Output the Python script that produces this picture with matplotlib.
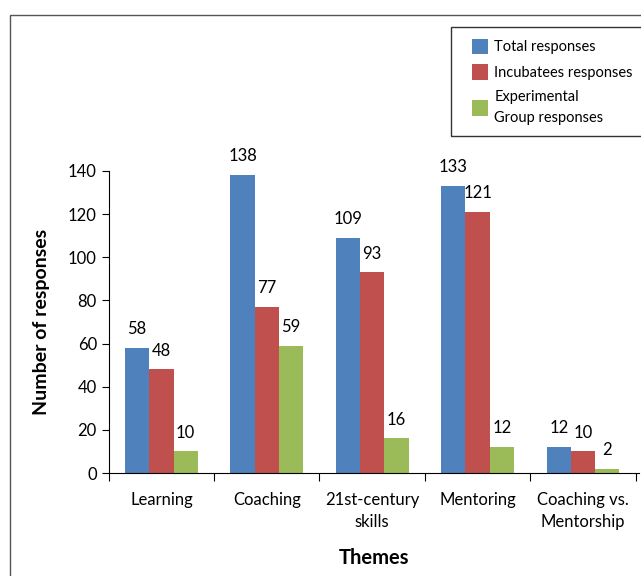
import numpy as np
import matplotlib
import matplotlib.pyplot as plt
from matplotlib.patches import Patch, Rectangle

matplotlib.use("Agg")

# data
themes = ["Learning", "Coaching", "21st-century\nskills", "Mentoring", "Coaching vs.\nMentorship"]
total = [58, 138, 109, 133, 12]
incubatees = [48, 77, 93, 121, 10]
experimental = [10, 59, 16, 12, 2]
series_labels = ["Total responses", "Incubatees responses", "Experimental\nGroup responses"]
colors = ["#4F81BD", "#C0504D", "#9BBB59"]

plt.rcParams["font.family"] = ["Lato", "DejaVu Sans"]

fig = plt.figure(figsize=(6.41, 5.76), dpi=100)
ax = fig.add_axes([0.1696, 0.1788, 0.827, 0.5245])

W, H = 641, 576
# outer frame
fig.patches.append(Rectangle((10 / W, -0.1), 1.2, 1.1 - 15 / H,
                             transform=fig.transFigure, fill=False,
                             edgecolor="#555555", linewidth=1.0))
# legend frame
fig.patches.append(Rectangle((451 / W, 1 - 136 / H), 1.0, 109 / H,
                             transform=fig.transFigure, fill=False,
                             edgecolor="#333333", linewidth=1.0))

x = np.arange(len(themes))
w = 0.23
for k, (vals, c) in enumerate(zip([total, incubatees, experimental], colors)):
    pos = x + (k - 1) * w
    ax.bar(pos, vals, width=w, color=c, edgecolor="none")
    for p, v in zip(pos, vals):
        ax.text(p, v + 5, str(v), ha="center", va="bottom", fontsize=12)

ax.set_xlim(-0.5, len(themes) - 0.5 + 0.03)
ax.set_ylim(0, 140)
ax.set_yticks(range(0, 141, 20))
ax.set_xticks(np.arange(len(themes) + 1) - 0.5)
ax.set_xticklabels([])
ax.set_xticks(x, minor=True)
ax.set_xticklabels(themes, minor=True, fontsize=12, linespacing=1.45)
ax.tick_params(axis="x", which="major", length=6, direction="out")
ax.tick_params(axis="x", which="minor", length=0, pad=14)
ax.tick_params(axis="y", length=5, direction="out", labelsize=12)
for s in ["top", "right"]:
    ax.spines[s].set_visible(False)

ax.set_ylabel("Number of responses", fontsize=14, fontweight="bold", labelpad=13)
ax.set_xlabel("Themes", fontsize=14.5, fontweight="bold", labelpad=13)

handles = [Patch(facecolor=c, edgecolor="none") for c in colors]
leg = fig.legend(handles, series_labels, loc="upper left",
                 bbox_to_anchor=(460 / W, 1 - 27 / H), fontsize=10.5,
                 frameon=False, handlelength=1.1, handleheight=1.25,
                 handletextpad=0.45, borderpad=0.3, labelspacing=0.7)
for t in leg.get_texts():
    t.set_linespacing(1.6)

fig.savefig("out.png", dpi=100)
